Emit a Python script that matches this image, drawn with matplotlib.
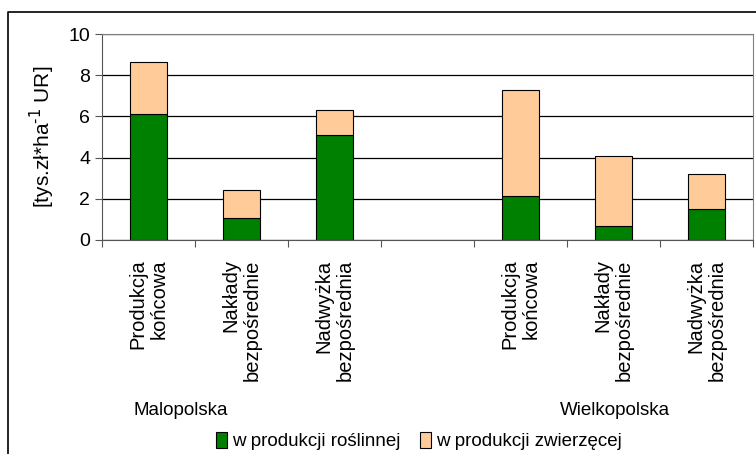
import numpy as np
import matplotlib
matplotlib.use('Agg')
from matplotlib import pyplot as plt
from matplotlib.lines import Line2D

plt.rcParams['font.family'] = ['Liberation Sans', 'DejaVu Sans']

categories = ['Produkcja\nkońcowa', 'Nakłady\nbezpośrednie', 'Nadwyżka\nbezpośrednia', '',
              'Produkcja\nkońcowa', 'Nakłady\nbezpośrednie', 'Nadwyżka\nbezpośrednia']
roslinna = [6.13, 1.07, 5.12, np.nan, 2.15, 0.67, 1.48]
zwierzeca = [2.52, 1.35, 1.17, np.nan, 5.15, 3.40, 1.71]
regions = ['Malopolska', 'Wielkopolska']
series = ['w produkcji roślinnej', 'w produkcji zwierzęcej']

fig = plt.figure(figsize=(7.56, 4.54), dpi=100)
ax = fig.add_axes([0.135, 0.4714, 0.861, 0.4537])

x = np.arange(len(categories))
ax.bar(x, roslinna, 0.4, color='#008000', edgecolor='black', linewidth=0.8, label=series[0])
ax.bar(x, zwierzeca, 0.4, bottom=roslinna, color='#FFCC99', edgecolor='black', linewidth=0.8,
       label=series[1])

ax.set_xlim(-0.5, len(categories) - 0.5)
ax.set_ylim(0, 10)
ax.set_yticks(np.arange(0, 11, 2))
ax.yaxis.grid(True, color='black', linewidth=0.9)
ax.set_axisbelow(True)

# ticks between categories, labels at centres
ax.set_xticks(np.arange(-0.5, len(categories), 1))
ax.set_xticklabels([])
ax.set_xticks(x, minor=True)
ax.set_xticklabels(categories, minor=True, rotation=90, fontsize=14.5,
                   multialignment='right', va='top', ha='center', linespacing=1.15)
ax.tick_params(axis='x', which='minor', length=0, pad=14)
ax.tick_params(axis='x', which='major', length=5, color='#555555', direction='out')
ax.tick_params(axis='y', labelsize=14, length=5, color='#555555')

for s in ['top', 'right']:
    ax.spines[s].set_color('#808080')
for s in ['left', 'bottom']:
    ax.spines[s].set_color('#555555')

ax.set_ylabel('[tys.zł*ha$^{\\text{-1}}$ UR]', fontsize=15, labelpad=8)

ax.text(0.121, -0.83, regions[0], transform=ax.transAxes, ha='center', va='center', fontsize=13.5)
ax.text(0.788, -0.83, regions[1], transform=ax.transAxes, ha='center', va='center', fontsize=13.5)

fig.legend(loc='center', bbox_to_anchor=(0.554, 0.028), ncol=2, frameon=False, fontsize=13.5,
           handlelength=0.6, handleheight=0.9, handletextpad=0.3, columnspacing=1.0)

# outer frame
fig.add_artist(Line2D([0.0106, 0.0106, 1.0], [0.0, 0.9736, 0.9736], transform=fig.transFigure,
                      color='black', linewidth=1.2))

fig.savefig('out.png', dpi=100)
